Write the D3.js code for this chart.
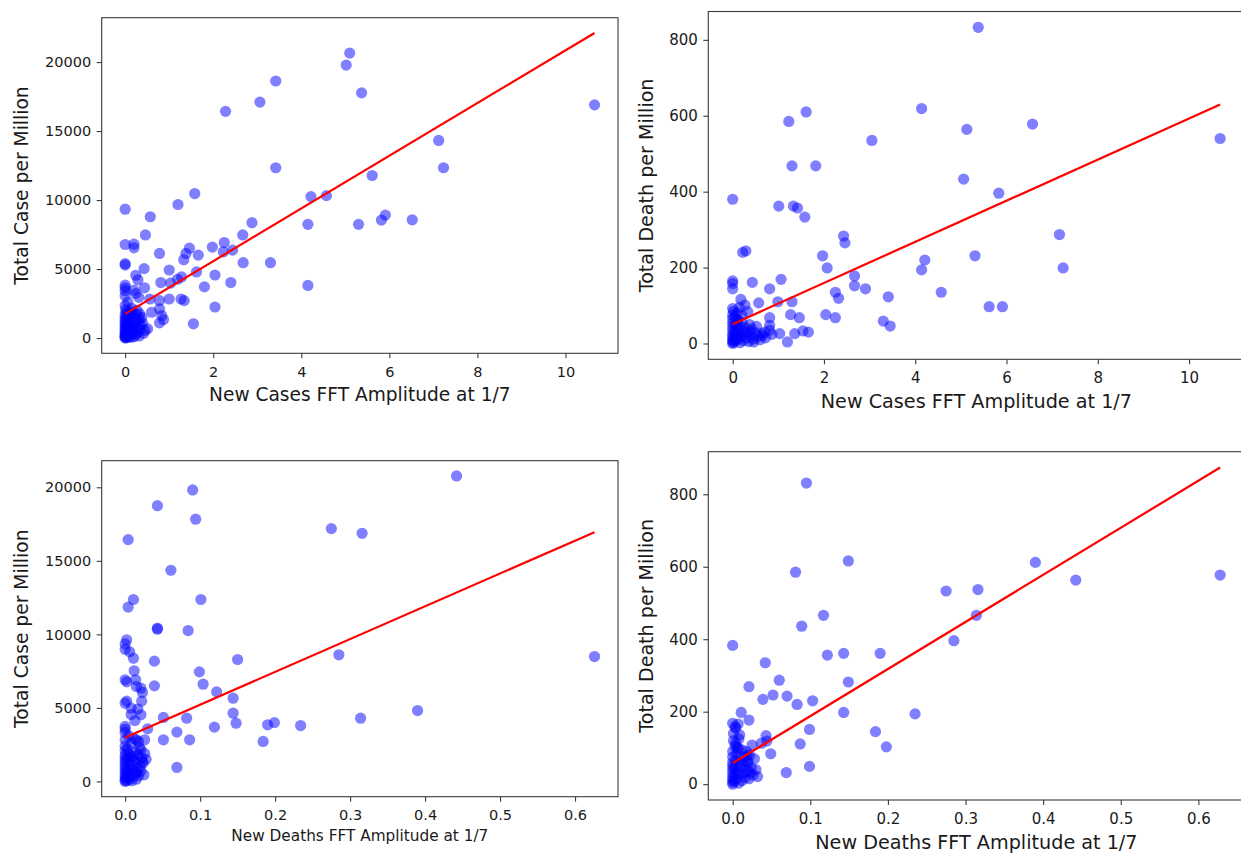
<!DOCTYPE html>
<html><head><meta charset="utf-8">
<script src="https://cdn.jsdelivr.net/npm/d3@7"></script>
<style>
body{margin:0;background:#fff}
text{font-family:"DejaVu Sans",sans-serif;fill:#1a1a1a}
</style>
</head><body>
<svg id="chart" width="1241" height="854"></svg>
<script>
// ---------- tick labels ----------
const caseAmpTicks = [0, 2, 4, 6, 8, 10];
const deathAmpTicks = [0, 0.1, 0.2, 0.3, 0.4, 0.5, 0.6];
const casePMTicks = [0, 5000, 10000, 15000, 20000];
const deathPMTicks = [0, 200, 400, 600, 800];

// ---------- axis titles ----------
const xTitleCases = "New Cases FFT Amplitude at 1/7";
const xTitleDeaths = "New Deaths FFT Amplitude at 1/7";
const yTitleCases = "Total Case per Million";
const yTitleDeaths = "Total Death per Million";

// ---------- fitted lines: [intercept, slope] ----------
const fitCaseAmpCasePM = [1750, 1910];
const fitCaseAmpDeathPM = [51, 54.2];
const fitDeathAmpCasePM = [2990, 22300];
const fitDeathAmpDeathPM = [58, 1299];

// ---------- panel 1: new cases FFT amplitude vs total cases per million ----------
const caseAmpCasePM = [
 [10.66,16900],[5.10,20650],[5.02,19780],[5.37,17770],[3.42,18630],[3.06,17100],[2.28,16430],
 [7.12,14320],[7.23,12340],[3.42,12340],[5.61,11780],[4.22,10250],[4.57,10320],[1.58,10470],
 [1.20,9680],[0.0,9340],[0.57,8790],[2.88,8360],[4.15,8240],[5.30,8240],[5.82,8550],[5.91,8910],
 [6.52,8570],[0.46,7470],[2.67,7470],[2.25,6920],[2.44,6370],[2.23,6250],[0.0,6780],[0.20,6800],
 [0.20,6540],[1.46,6510],[1.38,6130],[1.33,5680],[1.66,6010],[1.98,6590],[0.78,6130],[0.0,5390],
 [0.0,5290],[0.43,5030],[1.0,4930],[1.62,4790],[2.04,4570],[2.68,5460],[3.30,5460],[0.24,4550],
 [0.29,4220],[1.28,4430],[1.19,4260],[1.03,3980],[0.81,4020],[2.40,4020],[1.80,3710],[4.15,3810],
 [0.0,3830],[0.0,3640],[0.0,3430],[0.20,3470],[0.24,3230],[0.44,3640],[0.56,2830],[0.31,2950],
 [1.27,2830],[1.34,2710],[1.0,2830],[0.78,2710],[2.04,2250],[1.55,1030],[0.78,2110],[0.83,1630],
 [0.87,1340],[0.78,1100],[0.60,1870],[0.51,670],[0.45,550],[0.33,1750],[0.33,1390],[0.0,2350],[0.0,3070],
 [0,0],[0,50],[0,120],[0,200],[0,300],[0,420],[0,550],[0,700],[0,850],[0,1000],[0,1150],[0,1300],
 [0,1500],[0,1700],[0.02,80],[0.03,250],[0.04,600],[0.05,900],[0.05,1400],[0.06,30],[0.07,350],
 [0.08,1100],[0.09,700],[0.10,150],[0.10,1650],[0.11,450],[0.12,950],[0.13,1250],[0.14,60],
 [0.15,600],[0.16,1900],[0.17,300],[0.18,800],[0.19,1450],[0.20,100],[0.21,550],[0.22,1100],
 [0.24,250],[0.25,1700],[0.26,800],[0.28,400],[0.30,1200],[0.32,150],[0.33,650],[0.35,950],
 [0.38,1500],[0.40,1050],[0.42,350],[0.03,1850],[0.01,2050],[0.15,2150],[0.27,2000],[0.06,2600],[0.12,1800]
];

// ---------- panel 2: new cases FFT amplitude vs total deaths per million ----------
const caseAmpDeathPM = [
 [5.38,833],[10.68,540],[4.14,619],[1.61,610],[1.23,585],[6.57,578],[5.13,564],[3.05,535],[1.30,468],
 [1.82,468],[5.06,433],[5.83,396],[0.0,380],[1.01,362],[1.33,362],[1.42,357],[1.58,333],[7.16,287],
 [2.43,283],[2.46,265],[0.22,240],[0.29,244],[1.97,231],[5.31,231],[4.21,220],[2.07,199],[7.24,199],
 [4.14,194],[2.67,178],[1.06,169],[0.0,165],[0.0,158],[0.0,144],[0.43,161],[2.67,152],[0.81,144],
 [2.91,144],[2.25,135],[4.57,135],[3.41,123],[2.32,119],[1.30,110],[0.99,110],[0.57,107],[0.18,116],
 [0.27,101],[5.62,97],[5.91,97],[1.27,76],[2.04,76],[1.46,68],[2.25,68],[3.30,59],[3.45,46],[1.20,4],
 [1.36,26],[1.54,33],[1.66,30],[1.03,26],[0.81,68],[0.81,48],[0.81,35],[0.86,24],[0.46,4],[0.55,18],
 [0.64,26],[0.0,92],[0.0,75],[0.11,62],[0.33,84],[0.38,31],
 [0,0],[0,5],[0,10],[0,18],[0,25],[0,35],[0,45],[0,55],[0,65],[0.02,3],[0.03,15],[0.04,30],[0.05,50],
 [0.06,8],[0.08,22],[0.09,40],[0.10,60],[0.12,12],[0.13,28],[0.15,45],[0.16,2],[0.18,18],[0.20,35],
 [0.21,55],[0.23,8],[0.25,25],[0.27,42],[0.30,15],[0.32,30],[0.35,5],[0.37,50],[0.40,20],[0.42,38],
 [0.45,12],[0.50,28],[0.52,45],[0.60,10],[0.65,20],[0.70,30],[0.72,15],[0.10,80],[0.05,70],[0.20,75],
 [0.15,95],[0.02,85]
];

// ---------- panel 3: new deaths FFT amplitude vs total cases per million ----------
const deathAmpCasePM = [
 [0.442,20770],[0.090,19820],[0.043,18750],[0.094,17830],[0.275,17190],[0.316,16870],[0.004,16440],
 [0.061,14360],[0.011,12370],[0.101,12370],[0.004,11850],[0.043,10420],[0.043,10350],[0.084,10260],
 [0.002,9630],[0.0,9350],[0.0,8990],[0.006,8810],[0.011,8380],[0.626,8490],[0.285,8610],[0.150,8290],
 [0.039,8180],[0.099,7450],[0.012,7520],[0.104,6610],[0.039,6500],[0.0,6910],[0.002,6770],[0.014,6910],
 [0.015,6460],[0.021,6340],[0.023,6050],[0.122,6090],[0.022,5460],[0.144,5660],[0.002,5460],[0.0,5320],
 [0.008,4980],[0.017,4920],[0.144,4640],[0.008,4550],[0.021,4530],[0.051,4350],[0.082,4300],[0.390,4820],
 [0.314,4300],[0.148,3960],[0.199,4000],[0.190,3850],[0.234,3800],[0.119,3690],[0.069,3350],[0.030,3580],
 [0.013,4140],[0.051,2830],[0.086,2830],[0.184,2720],[0.069,950],[0.015,2830],[0.026,2830],[0.0,3740],
 [0.0,3560],[0.0,3330],[0.0,2830],[0.021,2150],[0.023,1360],[0.015,570],[0.010,1700],
 [0,0],[0,100],[0,250],[0,400],[0,600],[0,800],[0,1000],[0,1200],[0,1400],[0,1600],[0,1800],[0,2100],
 [0,2400],[0.002,50],[0.002,700],[0.003,1500],[0.003,2200],[0.004,300],[0.005,900],[0.005,1900],
 [0.006,150],[0.006,1250],[0.007,500],[0.008,1700],[0.008,2600],[0.009,50],[0.010,800],[0.010,1100],
 [0.011,350],[0.012,1500],[0.013,2000],[0.014,600],[0.015,150],[0.015,1300],[0.016,900],[0.017,1800],
 [0.018,400],[0.019,2300],[0.020,1000],[0.021,700],[0.022,1600],[0.024,1250],[0.025,450],[0.026,1900],
 [0.012,2900],[0.005,3100],[0.018,2700],[0.028,1500]
];

// ---------- panel 4: new deaths FFT amplitude vs total deaths per million ----------
const deathAmpDeathPM = [
 [0.095,831],[0.628,577],[0.149,616],[0.390,612],[0.081,585],[0.442,563],[0.275,533],[0.316,537],
 [0.314,466],[0.117,466],[0.089,436],[0.285,396],[0.0,383],[0.122,356],[0.143,361],[0.190,361],
 [0.042,335],[0.060,287],[0.149,282],[0.021,269],[0.052,246],[0.070,243],[0.039,234],[0.103,230],
 [0.083,220],[0.011,198],[0.143,198],[0.235,194],[0.021,177],[0.099,151],[0.184,145],[0.043,134],
 [0.044,119],[0.037,113],[0.025,108],[0.087,111],[0.198,103],[0.049,84],[0.069,32],[0.099,49],
 [0.032,21],[0.023,32],[0.0,168],[0.003,159],[0.007,166],[0.009,136],[0.004,113],[0.007,99],[0.0,90],
 [0.019,81],[0.019,62],
 [0,0],[0,5],[0,12],[0,20],[0,30],[0,40],[0,50],[0,60],[0,75],[0.001,140],[0.002,8],[0.002,45],
 [0.003,25],[0.003,105],[0.004,65],[0.005,15],[0.005,85],[0.006,35],[0.007,55],[0.008,3],[0.008,125],
 [0.009,28],[0.010,70],[0.011,45],[0.012,10],[0.012,95],[0.013,60],[0.014,30],[0.015,75],[0.016,18],
 [0.017,50],[0.018,90],[0.019,35],[0.020,60],[0.021,15],[0.022,80],[0.024,45],[0.026,25],[0.028,70],
 [0.030,40],[0.004,155],[0.001,120],[0.006,100]
];

// ---------- layout (pixel frames) ----------
const panels = [
  {pts: caseAmpCasePM, fit: fitCaseAmpCasePM, xt: caseAmpTicks, yt: casePMTicks, xl: xTitleCases, yl: yTitleCases,
   box: {l:101.7, t:17.7, r:618, b:353.3}, tickFont: 14.5, xlFont: 18.6, ylFont: 18.7, xlOff: 48, ylX: 28},
  {pts: caseAmpDeathPM, fit: fitCaseAmpDeathPM, xt: caseAmpTicks, yt: deathPMTicks, xl: xTitleCases, yl: yTitleDeaths,
   box: {l:708.3, t:11.5, r:1244.5, b:359.3}, tickFont: 15, xlFont: 19.2, ylFont: 19.1, xlOff: 49, ylX: 653},
  {pts: deathAmpCasePM, fit: fitDeathAmpCasePM, xt: deathAmpTicks, yt: casePMTicks, xl: xTitleDeaths, yl: yTitleCases,
   box: {l:101.7, t:460.7, r:618, b:796.7}, tickFont: 14.5, xlFont: 15.3, ylFont: 18.7, xlOff: 44, ylX: 28},
  {pts: deathAmpDeathPM, fit: fitDeathAmpDeathPM, xt: deathAmpTicks, yt: deathPMTicks, xl: xTitleDeaths, yl: yTitleDeaths,
   box: {l:708.3, t:451.7, r:1244.5, b:800}, tickFont: 15, xlFont: 19.2, ylFont: 19.1, xlOff: 49, ylX: 653}
];

const svg = d3.select("#chart");

function padded(lo, hi) { const m = (hi - lo) * 0.05; return [lo - m, hi + m]; }

panels.forEach(p => {
  const xs = p.pts.map(d => d[0]), ys = p.pts.map(d => d[1]);
  const x0 = d3.min(xs), x1 = d3.max(xs);
  const lineY = [p.fit[0] + p.fit[1] * x0, p.fit[0] + p.fit[1] * x1];
  const xDom = padded(x0, x1);
  const yDom = padded(Math.min(d3.min(ys), ...lineY), Math.max(d3.max(ys), ...lineY));
  const b = p.box;
  const x = d3.scaleLinear().domain(xDom).range([b.l, b.r]);
  const y = d3.scaleLinear().domain(yDom).range([b.b, b.t]);

  const g = svg.append("g");

  // points
  g.append("g").selectAll("circle").data(p.pts).join("circle")
    .attr("cx", d => x(d[0])).attr("cy", d => y(d[1])).attr("r", 5.6)
    .attr("fill", "#0000ff").attr("fill-opacity", 0.5);

  // regression line
  g.append("line")
    .attr("x1", x(x0)).attr("y1", y(lineY[0]))
    .attr("x2", x(x1)).attr("y2", y(lineY[1]))
    .attr("stroke", "#ff0000").attr("stroke-width", 2.2);

  // frame
  g.append("rect").attr("x", b.l).attr("y", b.t).attr("width", b.r - b.l).attr("height", b.b - b.t)
    .attr("fill", "none").attr("stroke", "#3a3a3a").attr("stroke-width", 1.1);

  const fmt = d3.format(p.xt[1] < 1 ? ".1f" : "d");
  const xa = g.append("g").attr("transform", `translate(0,${b.b})`)
    .call(d3.axisBottom(x).tickValues(p.xt).tickFormat(fmt).tickSize(5).tickPadding(8).tickSizeOuter(0));
  const ya = g.append("g").attr("transform", `translate(${b.l},0)`)
    .call(d3.axisLeft(y).tickValues(p.yt).tickFormat(d3.format("d")).tickSize(5).tickPadding(5.5).tickSizeOuter(0));
  [xa, ya].forEach(a => {
    a.select(".domain").remove();
    a.selectAll(".tick line").attr("stroke", "#3a3a3a").attr("stroke-width", 1.1);
    a.selectAll(".tick text").attr("font-size", p.tickFont).attr("font-family", "DejaVu Sans").attr("fill", "#1a1a1a");
  });

  g.append("text").attr("x", (b.l + b.r) / 2).attr("y", b.b + p.xlOff)
    .attr("text-anchor", "middle").attr("font-size", p.xlFont).text(p.xl);
  g.append("text").attr("transform", `translate(${p.ylX},${(b.t + b.b) / 2}) rotate(-90)`)
    .attr("text-anchor", "middle").attr("font-size", p.ylFont).text(p.yl);
});
</script>
</body></html>
